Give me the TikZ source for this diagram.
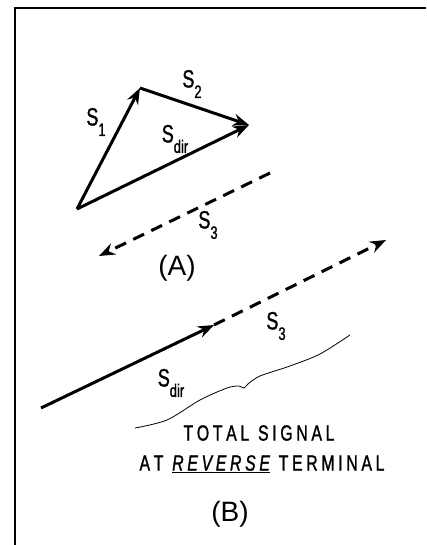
\documentclass[tikz,border=0pt]{standalone}
\usepackage{fontspec}
\setmainfont{Liberation Sans}
\newfontfamily\narrowfont[FakeStretch=0.72, FakeBold=1.2]{Liberation Sans}
\usetikzlibrary{arrows.meta}
\newcommand{\lowsub}[1]{\raisebox{-0.42em}{\fontsize{18}{18}\selectfont #1}}

\begin{document}
\begin{tikzpicture}[
    x=1pt, y=-1pt,
    >={Stealth[length=16pt, width=12pt]},
    vec/.style={->, line width=3pt},
    dvec/.style={->, line width=3pt, dash pattern=on 12pt off 8pt},
    lbl/.style={font=\narrowfont\fontsize{25}{25}\selectfont, inner sep=0pt},
    caption/.style={font=\narrowfont\fontsize{22}{22}\selectfont, inner sep=0pt},
    part/.style={font=\fontsize{28}{28}\selectfont, inner sep=0pt}
]
\useasboundingbox (0,0) rectangle (426,545);
\draw[line width=2pt] (15,545) -- (15,8) -- (426,8);

\coordinate (o) at (77,209);
\coordinate (p) at (140,88);
\coordinate (q) at (249,125);
\coordinate (a3s) at (270,173);
\coordinate (a3e) at (99,256);

\draw[vec] (o) -- (p);
\draw[vec] (p) -- (q);
\draw[vec] (o) -- (q);
\draw[dvec] (a3s) -- (a3e);

\node[lbl] (s1) at (96,122) {S\lowsub{1}};
\node[lbl] (s2) at (192,84) {S\lowsub{2}};
\node[lbl] (sdirA) at (175,139) {S\lowsub{dir}};
\node[lbl] (s3A) at (208,225) {S\lowsub{3}};
\node[part] (partA) at (177,268) {(A)};

\coordinate (b0) at (41,408);
\coordinate (b1) at (214,325);
\coordinate (b2) at (386,240);

\draw[vec] (b0) -- (b1);
\draw[dvec] (b1) -- (b2);

\node[lbl] (s3B) at (276,326) {S\lowsub{3}};
\node[lbl] (sdirB) at (171,383) {S\lowsub{dir}};

\draw[line width=0.8pt] plot[smooth, tension=0.5] coordinates {(135,428) (167,420) (200,400) (227,388) (239,386) (244,388) (248,384) (260,376) (290,366) (320,354) (350,335)};

\node[caption] (total) at (259,433) {T\,O\,T\,A\,L\ \ S\,I\,G\,N\,A\,L};
\node[caption] (term) at (262,464) {A\,T\ \ \underline{\itshape R\,E\,V\,E\,R\,S\,E}\ \ T\,E\,R\,M\,I\,N\,A\,L};
\node[part] (partB) at (230,514) {(B)};
\end{tikzpicture}
\end{document}
